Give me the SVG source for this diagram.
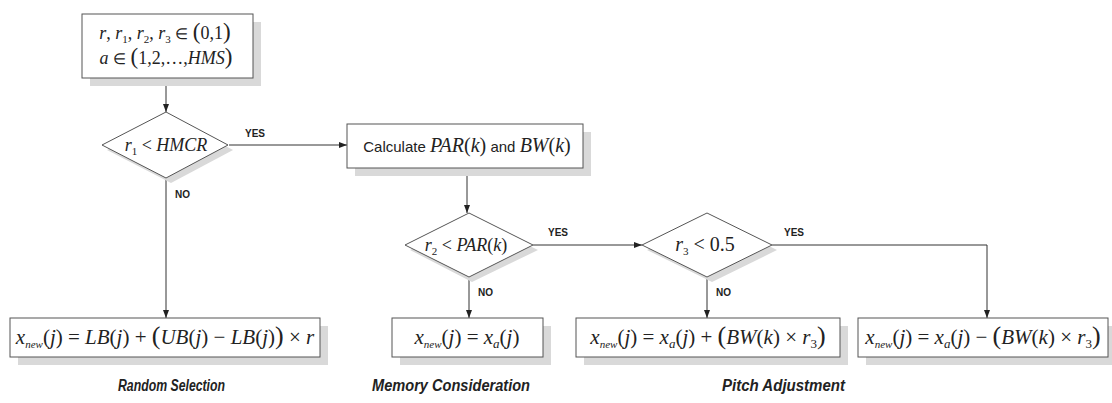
<svg xmlns="http://www.w3.org/2000/svg" width="1112" height="403" viewBox="0 0 1112 403">
<style>
.bg{fill:#ffffff}
.box{fill:#ffffff;stroke:#555555;stroke-width:1}
.shadow{fill:#d9d9d9}
.conn{stroke:#333333;stroke-width:1;fill:none}
.arr{marker-end:url(#ah)}
.lbl{font-family:"Liberation Sans",Arial,sans-serif;font-weight:bold;font-size:10px;fill:#222222}
.cap{font-family:"Liberation Sans",Arial,sans-serif;font-weight:bold;font-style:italic;font-size:16px;fill:#222222}
.m{font-family:"Liberation Serif","Times New Roman",serif;font-size:18px;fill:#222222}
.mb{font-size:21px}
.i{font-style:italic}
.s{font-size:11px}
.sb{font-size:13px}
.el{font-size:15px}
.sans{font-family:"Liberation Sans",Arial,sans-serif;font-size:15px;font-style:normal}
.big{font-size:23px}
.bigb{font-size:26px}
</style>
<defs>
<marker id="ah" viewBox="0 0 8 6" refX="8" refY="3" markerWidth="8" markerHeight="6" markerUnits="userSpaceOnUse" orient="auto">
<path d="M0,0 L8,3 L0,6 z" fill="#222222"/>
</marker>
</defs>
<rect class="bg" x="0" y="0" width="1112" height="403"/>

<g id="connectors">
<line class="conn arr" x1="166" y1="78" x2="166" y2="112"/>
<line class="conn arr" x1="229" y1="145" x2="347" y2="145"/>
<line class="conn arr" x1="166" y1="178" x2="166" y2="318"/>
<line class="conn arr" x1="467" y1="168" x2="467" y2="213"/>
<line class="conn arr" x1="533" y1="245" x2="642" y2="245"/>
<line class="conn arr" x1="469" y1="277" x2="469" y2="318"/>
<polyline class="conn arr" points="772,245 987,245 987,318"/>
<line class="conn arr" x1="707" y1="277" x2="707" y2="318"/>
<text class="lbl" x="245" y="137">YES</text>
<text class="lbl" x="175" y="198">NO</text>
<text class="lbl" x="548" y="236">YES</text>
<text class="lbl" x="478" y="296">NO</text>
<text class="lbl" x="784" y="236">YES</text>
<text class="lbl" x="716" y="296">NO</text>
</g>

<g id="init">
<rect class="shadow" x="90" y="22" width="171" height="64"/>
<rect class="box" x="82" y="14" width="171" height="64"/>
<text class="m" x="165" y="39" text-anchor="middle"><tspan class="i">r</tspan>, <tspan class="i">r</tspan><tspan class="s" dy="4">1</tspan><tspan dy="-4">, </tspan><tspan class="i">r</tspan><tspan class="s" dy="4">2</tspan><tspan dy="-4">, </tspan><tspan class="i">r</tspan><tspan class="s" dy="4">3</tspan><tspan dy="-4"> </tspan><tspan class="el">∈</tspan><tspan> </tspan><tspan class="big">(</tspan>0,1<tspan class="big">)</tspan></text>
<text class="m" x="166" y="64" text-anchor="middle"><tspan class="i">a</tspan> <tspan class="el">∈</tspan> <tspan class="big">(</tspan>1,2,…,<tspan class="i">HMS</tspan><tspan class="big">)</tspan></text>
</g>

<g id="d1">
<polygon class="shadow" points="171,117 233,150 171,183 107,150"/>
<polygon class="box" points="166,112 228,145 166,178 102,145"/>
<text class="m" x="166" y="151" text-anchor="middle"><tspan class="i">r</tspan><tspan class="s" dy="4">1</tspan><tspan dy="-4"> &lt; </tspan><tspan class="i">HMCR</tspan></text>
</g>

<g id="calc">
<rect class="shadow" x="355" y="132" width="236" height="44"/>
<rect class="box" x="347" y="124" width="236" height="44"/>
<text class="m" x="467" y="152" text-anchor="middle" style="font-size:20px"><tspan class="sans">Calculate </tspan><tspan class="i">PAR</tspan>(<tspan class="i">k</tspan>)<tspan class="sans"> and </tspan><tspan class="i">BW</tspan>(<tspan class="i">k</tspan>)</text>
</g>

<g id="d2">
<polygon class="shadow" points="472,218 538,250 472,282 410,250"/>
<polygon class="box" points="469,213 533,245 469,277 405,245"/>
<text class="m" x="466" y="251" text-anchor="middle"><tspan class="i">r</tspan><tspan class="s" dy="4">2</tspan><tspan dy="-4"> &lt; </tspan><tspan class="i">PAR</tspan>(<tspan class="i">k</tspan>)</text>
</g>

<g id="d3">
<polygon class="shadow" points="712,218 777,250 712,282 647,250"/>
<polygon class="box" points="707,213 772,245 707,277 642,245"/>
<text class="m" x="705" y="251" text-anchor="middle" style="font-size:20px"><tspan class="i">r</tspan><tspan class="s" dy="4">3</tspan><tspan dy="-4"> &lt; 0.5</tspan></text>
</g>

<g id="random">
<rect class="shadow" x="18" y="326" width="310" height="39"/>
<rect class="box" x="10" y="318" width="310" height="39"/>
<text class="m mb" x="165" y="344" text-anchor="middle"><tspan class="i">x</tspan><tspan class="s i" dy="4">new</tspan><tspan dy="-4">(</tspan><tspan class="i">j</tspan>) = <tspan class="i">LB</tspan>(<tspan class="i">j</tspan>) + <tspan class="bigb">(</tspan><tspan class="i">UB</tspan>(<tspan class="i">j</tspan>) − <tspan class="i">LB</tspan>(<tspan class="i">j</tspan>)<tspan class="bigb">)</tspan> × <tspan class="i">r</tspan></text>
</g>

<g id="memory">
<rect class="shadow" x="400" y="326" width="151" height="39"/>
<rect class="box" x="392" y="318" width="151" height="39"/>
<text class="m mb" x="467" y="344" text-anchor="middle"><tspan class="i">x</tspan><tspan class="s i" dy="4">new</tspan><tspan dy="-4">(</tspan><tspan class="i">j</tspan>) = <tspan class="i">x</tspan><tspan class="sb i" dy="4">a</tspan><tspan dy="-4">(</tspan><tspan class="i">j</tspan>)</text>
</g>

<g id="pitchplus">
<rect class="shadow" x="584" y="326" width="264" height="39"/>
<rect class="box" x="576" y="318" width="264" height="39"/>
<text class="m mb" x="708" y="344" text-anchor="middle"><tspan class="i">x</tspan><tspan class="s i" dy="4">new</tspan><tspan dy="-4">(</tspan><tspan class="i">j</tspan>) = <tspan class="i">x</tspan><tspan class="sb i" dy="4">a</tspan><tspan dy="-4">(</tspan><tspan class="i">j</tspan>) + <tspan class="bigb">(</tspan><tspan class="i">BW</tspan>(<tspan class="i">k</tspan>) × <tspan class="i">r</tspan><tspan class="sb" dy="4">3</tspan><tspan class="bigb" dy="-4">)</tspan></text>
</g>

<g id="pitchminus">
<rect class="shadow" x="866" y="326" width="246" height="39"/>
<rect class="box" x="858" y="318" width="250" height="39"/>
<text class="m mb" x="983" y="344" text-anchor="middle"><tspan class="i">x</tspan><tspan class="s i" dy="4">new</tspan><tspan dy="-4">(</tspan><tspan class="i">j</tspan>) = <tspan class="i">x</tspan><tspan class="sb i" dy="4">a</tspan><tspan dy="-4">(</tspan><tspan class="i">j</tspan>) − <tspan class="bigb">(</tspan><tspan class="i">BW</tspan>(<tspan class="i">k</tspan>) × <tspan class="i">r</tspan><tspan class="sb" dy="4">3</tspan><tspan class="bigb" dy="-4">)</tspan></text>
</g>

<g id="captions">
<text class="cap" x="118" y="391" textLength="107" lengthAdjust="spacingAndGlyphs">Random Selection</text>
<text class="cap" x="372" y="391" textLength="158" lengthAdjust="spacingAndGlyphs">Memory Consideration</text>
<text class="cap" x="722" y="391" textLength="123" lengthAdjust="spacingAndGlyphs">Pitch Adjustment</text>
</g>
</svg>
